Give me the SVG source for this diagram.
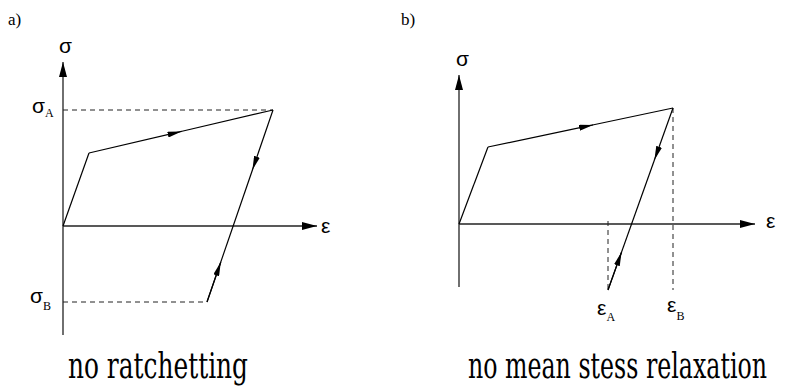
<svg xmlns="http://www.w3.org/2000/svg" width="795" height="388" viewBox="0 0 795 388">
<style>
.ln{fill:none;stroke:#000;stroke-width:1.2}
.ax{fill:none;stroke:#222;stroke-width:1.3}
.dash{fill:none;stroke:#222;stroke-width:1;stroke-dasharray:5,4}
.g{font-family:"Liberation Sans",Arial,sans-serif;font-size:21px;fill:#000}
.s{font-family:"Liberation Serif","Times New Roman",serif;font-size:12px;fill:#000}
.lab{font-family:"Liberation Serif","Times New Roman",serif;font-size:17px;fill:#000}
.cap{font-family:"DejaVu Serif","Liberation Serif",serif;font-size:25px;font-weight:300;fill:#000}
</style>
<defs>
<marker id="axh" viewBox="0 0 15 8" refX="15" refY="4" markerWidth="15" markerHeight="8" markerUnits="userSpaceOnUse" orient="auto">
<path d="M0,0 L15,4 L0,8 z" fill="#000"/>
</marker>
<marker id="mh" viewBox="0 0 14 6" refX="14" refY="3" markerWidth="14" markerHeight="6" markerUnits="userSpaceOnUse" orient="auto">
<path d="M0,0 L14,3 L0,6 z" fill="#000"/>
</marker>
</defs>

<g id="panel-a">
<text class="lab" x="8" y="25">a)</text>
<g id="a-axes">
<path class="ax" d="M63,335 L63,62" marker-end="url(#axh)"/>
<path class="ax" d="M63,226 L317,226" marker-end="url(#axh)"/>
<text class="g" x="59" y="53">σ</text>
<text class="g" x="321" y="233">ε</text>
</g>
<g id="a-dashes">
<path class="dash" d="M63,110 L273,110"/>
<path class="dash" d="M63,302 L207,302"/>
<text class="g" x="32" y="113">σ<tspan class="s" dy="4">A</tspan></text>
<text class="g" x="30" y="303">σ<tspan class="s" dy="7">B</tspan></text>
</g>
<g id="a-curve">
<path class="ln" d="M63,226 L89,153"/>
<path class="ln" d="M89,153 L181.5,131.4" marker-end="url(#mh)"/>
<path class="ln" d="M181,131.5 L273,110"/>
<path class="ln" d="M273,110 L252.4,170" marker-end="url(#mh)"/>
<path class="ln" d="M252.6,169.5 L207,302"/>
<path class="ln" d="M207,302 L220.8,262" marker-end="url(#mh)"/>
</g>
<text class="cap" transform="translate(68,378) scale(1,1.38)" x="0" y="0" textLength="180" lengthAdjust="spacingAndGlyphs">no ratchetting</text>
</g>

<g id="panel-b">
<text class="lab" x="401" y="25">b)</text>
<g id="b-axes">
<path class="ax" d="M459,287 L459,75" marker-end="url(#axh)"/>
<path class="ax" d="M459,224 L755,224" marker-end="url(#axh)"/>
<text class="g" x="456" y="66">σ</text>
<text class="g" x="766" y="228">ε</text>
</g>
<g id="b-dashes">
<path class="dash" d="M673,108 L673,290"/>
<path class="dash" d="M608,221 L608,290"/>
<text class="g" x="597" y="315">ε<tspan class="s" dy="6">A</tspan></text>
<text class="g" x="667" y="312">ε<tspan class="s" dy="8">B</tspan></text>
</g>
<g id="b-curve">
<path class="ln" d="M459,224 L488,147"/>
<path class="ln" d="M488,147 L593,124.9" marker-end="url(#mh)"/>
<path class="ln" d="M592.5,125 L673,108"/>
<path class="ln" d="M673,108 L654.4,160" marker-end="url(#mh)"/>
<path class="ln" d="M654.6,159.5 L608,290"/>
<path class="ln" d="M608,290 L621.6,252" marker-end="url(#mh)"/>
</g>
<text class="cap" transform="translate(468,378) scale(1,1.38)" x="0" y="0" textLength="299" lengthAdjust="spacingAndGlyphs">no mean stess relaxation</text>
</g>
</svg>
